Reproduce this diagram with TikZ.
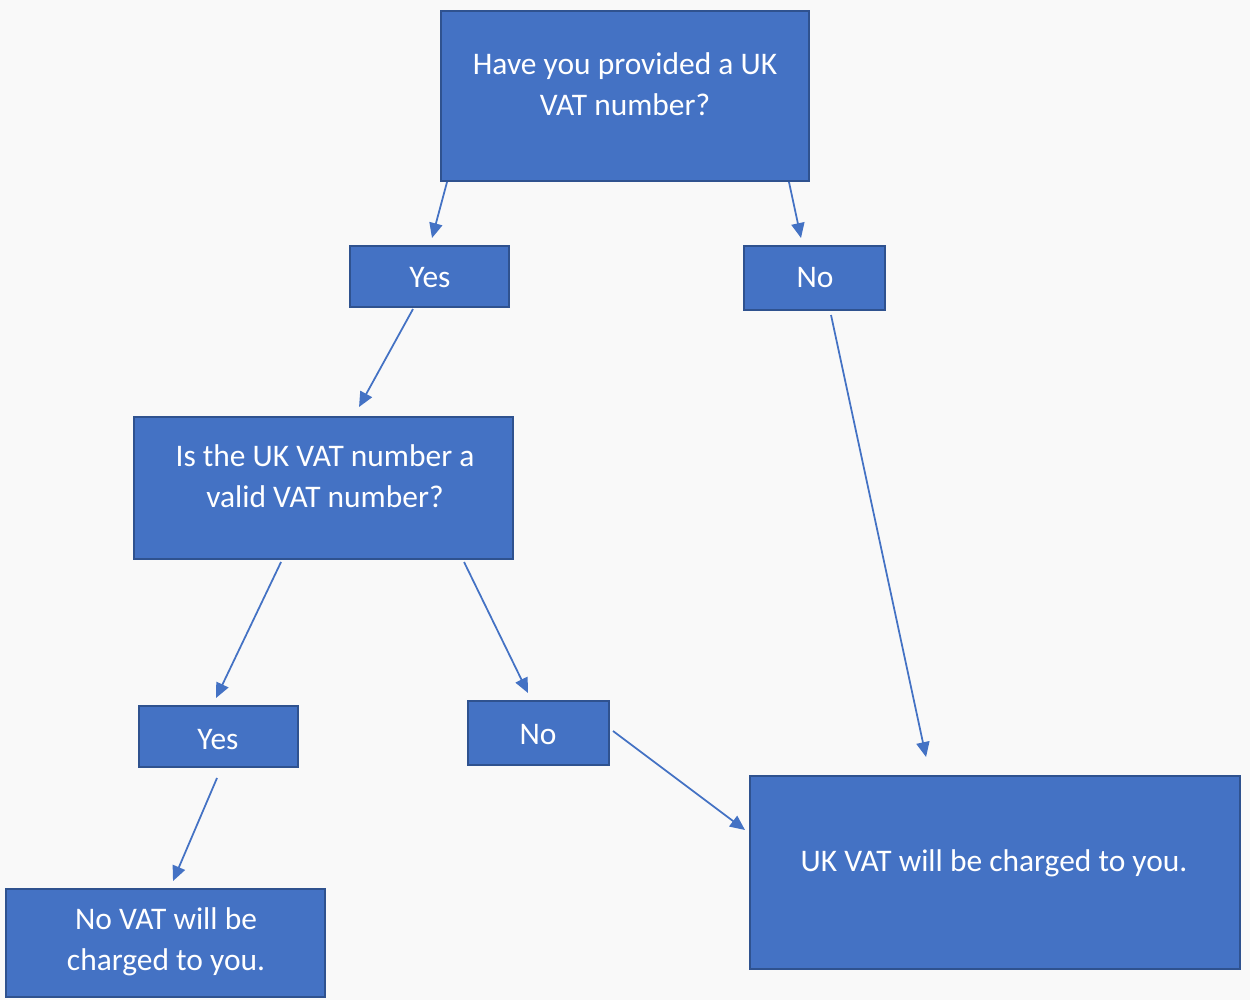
\documentclass[tikz,border=0pt]{standalone}
\usepackage{fontspec}
\setmainfont{Carlito}
\usetikzlibrary{calc,arrows.meta}
\definecolor{boxfill}{HTML}{4472C4}
\definecolor{boxline}{HTML}{2F528F}
\definecolor{bgcol}{HTML}{F9F9F9}
\tikzset{
  box/.style={draw=boxline, fill=boxfill, line width=1.5pt, inner sep=0pt, outer sep=0pt,
    text=white, font=\fontsize{17.9}{23.5}\selectfont, align=center},
  txt/.style={text=white, font=\fontsize{17.9}{23.5}\selectfont, align=center, inner sep=0pt},
  arr/.style={draw=boxfill, line width=1pt, -{Triangle[length=8.5pt,width=7.5pt]}}
}
\begin{document}
\begin{tikzpicture}[x=0.02cm, y=-0.02cm]
\fill[bgcol] (0,0) rectangle (1250,1000);
\useasboundingbox (0,0) rectangle (1250,1000);

\node[box, minimum width=7.36cm, minimum height=3.4cm] (top) at (625,96) {};
\node[txt] (toptext) at (625,84) {Have you provided a UK\\VAT number?};
\node[box, minimum width=3.18cm, minimum height=1.22cm] (yes1) at (429.5,276.5) {};
\node[txt] (yes1text) at (430,278) {Yes};
\node[box, minimum width=2.82cm, minimum height=1.28cm] (no1) at (814.5,278) {};
\node[txt] (no1text) at (815,278) {No};
\node[box, minimum width=7.58cm, minimum height=2.84cm] (valid) at (323.5,488) {};
\node[txt] (validtext) at (325,476) {Is the UK VAT number a\\valid VAT number?};
\node[box, minimum width=3.18cm, minimum height=1.22cm] (yes2) at (218.5,736.5) {};
\node[txt] (yes2text) at (218,740) {Yes};
\node[box, minimum width=2.82cm, minimum height=1.28cm] (no2) at (538.5,733) {};
\node[txt] (no2text) at (538,735) {No};
\node[box, minimum width=6.38cm, minimum height=2.16cm] (novat) at (165.5,943) {};
\node[txt] (novattext) at (166,942) {No VAT will be\\charged to you.};
\node[box, minimum width=9.8cm, minimum height=3.86cm] (ukvat) at (995,872.5) {};
\node[txt] (ukvattext) at (994,863) {UK VAT will be charged to you.};

\draw[arr] ($(top.south west)+(6,1)$) -- ($(yes1.north west)+(82,-8)$);
\draw[arr] ($(top.south east)+(-20,1)$) -- ($(no1.north west)+(57,-8)$);
\draw[arr] ($(yes1.south west)+(63,2)$) -- ($(valid.north west)+(225,-10)$);
\draw[arr] ($(no1.south west)+(87,5)$) -- ($(ukvat.north west)+(176,-19)$);
\draw[arr] ($(valid.south west)+(147,3)$) -- ($(yes2.north west)+(77,-8)$);
\draw[arr] ($(valid.south west)+(330,3)$) -- ($(no2.north west)+(60,-8)$);
\draw[arr] ($(no2.north east)+(4,30)$) -- ($(ukvat.north west)+(-5,54)$);
\draw[arr] ($(yes2.south west)+(78,11)$) -- ($(novat.north west)+(167,-8)$);
\end{tikzpicture}
\end{document}
